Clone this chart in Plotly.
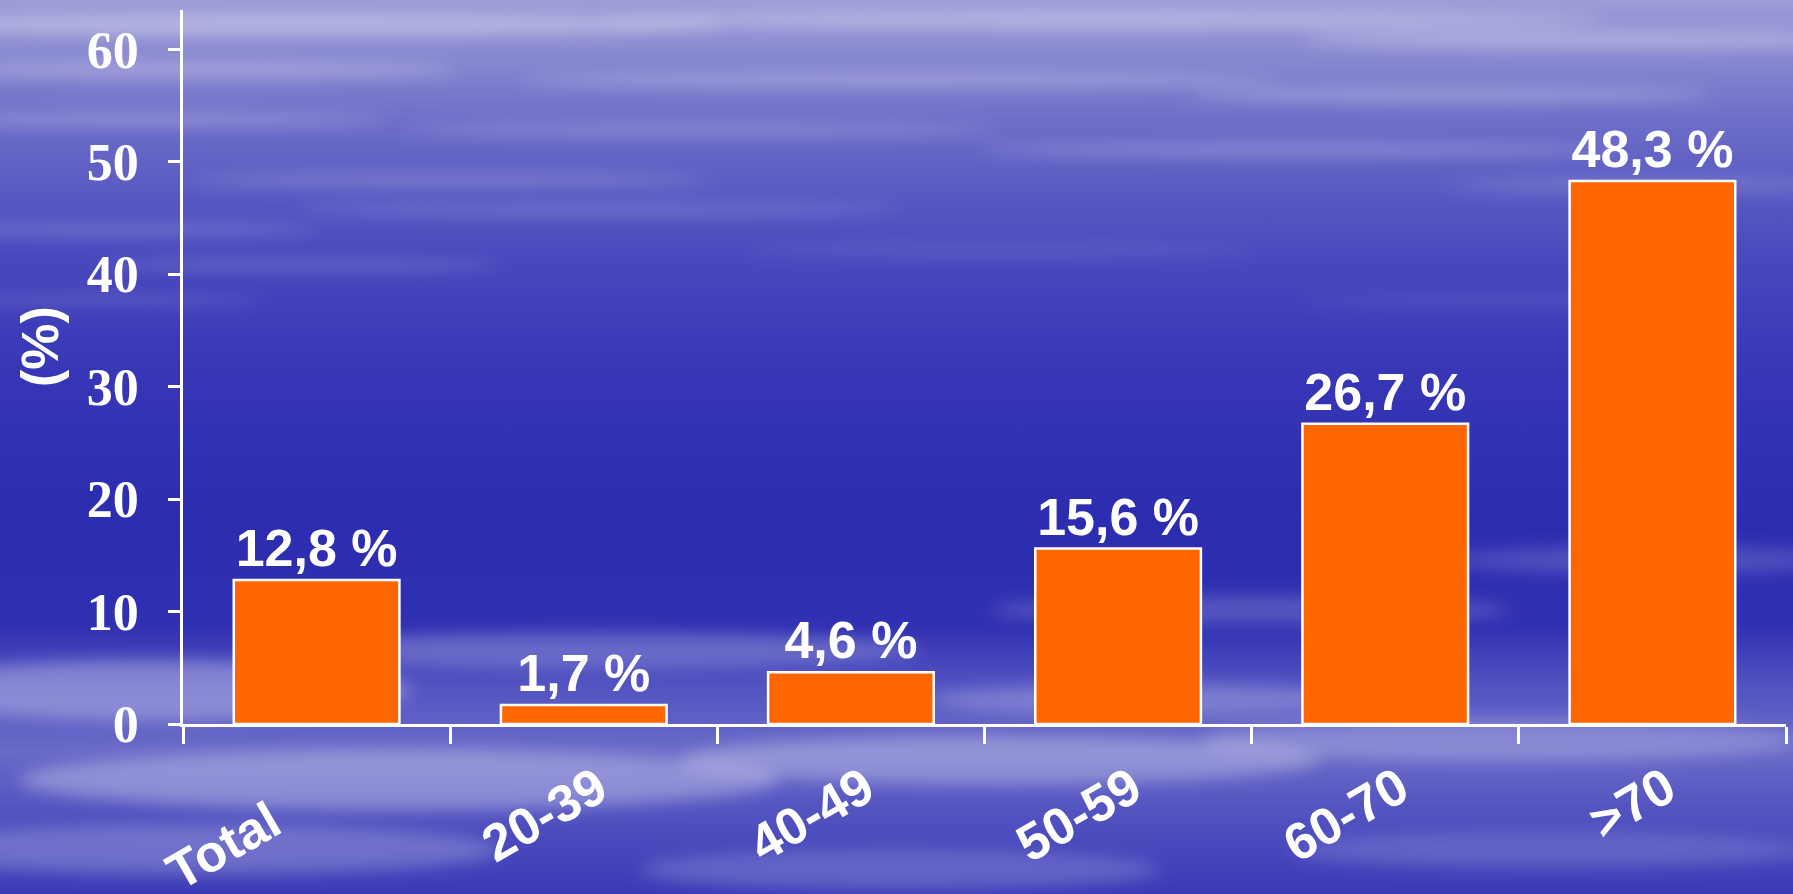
import base64
import plotly.graph_objects as go

# ---- data ----
categories = ["Total", "20-39", "40-49", "50-59", "60-70", ">70"]
values = [12.8, 1.7, 4.6, 15.6, 26.7, 48.3]
y_ticks = [0, 10, 20, 30, 40, 50, 60]
y_title = "(%)"
# tick texts as drawn in the reference ("Total" sits further out along its slant)
tick_labels = ["Total\u00a0\u00a0\u00a0\u00a0\u2009"] + categories[1:]

labels = [f"{v:.1f}".replace(".", ",") + " %" for v in values]

W, H = 1793, 894
ML, MR, MT, MB = 183, 7, 10, 170

# ---- decorative water-like background (SVG) ----
stops = [
    (0.00, "#9C9CD8"), (0.05, "#8C8CD2"), (0.14, "#6C6CC8"), (0.28, "#4A4ABE"),
    (0.42, "#3636B6"), (0.58, "#2C2CB0"), (0.70, "#3030B2"), (0.77, "#5454C2"),
    (0.84, "#6A6AC8"), (0.91, "#5252C0"), (1.00, "#3A3AB6"),
]
streaks = [
    # cx, cy, rx, ry, opacity
    (300, 25, 420, 10, 0.35), (1100, 20, 500, 9, 0.30), (1600, 40, 300, 8, 0.30),
    (200, 70, 260, 7, 0.30), (900, 80, 380, 7, 0.25), (1450, 95, 260, 6, 0.30),
    (150, 120, 240, 6, 0.25), (700, 130, 300, 6, 0.22), (1300, 150, 320, 6, 0.25),
    (450, 180, 260, 5, 0.25), (1650, 185, 200, 5, 0.22), (120, 230, 200, 5, 0.22),
    (600, 210, 300, 5, 0.20), (300, 265, 200, 5, 0.20), (1000, 250, 260, 4, 0.16),
    (100, 300, 160, 4, 0.18), (1500, 300, 200, 4, 0.12),
    (150, 690, 260, 30, 0.30), (600, 650, 320, 18, 0.22), (1250, 610, 260, 14, 0.18),
    (1650, 560, 200, 14, 0.16), (400, 780, 380, 30, 0.30), (1000, 760, 320, 25, 0.28),
    (1500, 740, 300, 22, 0.22), (200, 850, 300, 25, 0.22), (900, 870, 260, 20, 0.18),
    (1550, 850, 260, 18, 0.15), (1150, 700, 220, 16, 0.22),
]
svg = [f'<svg xmlns="http://www.w3.org/2000/svg" width="{W}" height="{H}" viewBox="0 0 {W} {H}">',
       '<defs><linearGradient id="g" x1="0" y1="0" x2="0" y2="1">']
for off, col in stops:
    svg.append(f'<stop offset="{off}" stop-color="{col}"/>')
svg.append('</linearGradient><filter id="b" x="-50%" y="-200%" width="200%" height="500%">'
           '<feGaussianBlur stdDeviation="8"/></filter></defs>')
svg.append(f'<rect width="{W}" height="{H}" fill="url(#g)"/>')
svg.append('<g filter="url(#b)">')
for cx, cy, rx, ry, op in streaks:
    svg.append(f'<ellipse cx="{cx}" cy="{cy}" rx="{rx}" ry="{ry}" fill="#FFFFFF" opacity="{op}"/>')
svg.append('</g></svg>')
svg_uri = "data:image/svg+xml;base64," + base64.b64encode("".join(svg).encode()).decode()

fig = go.Figure()
fig.add_trace(go.Bar(
    x=categories, y=values, width=0.62,
    marker=dict(color="#FF6600", line=dict(color="#FFFFFF", width=2.5)),
    text=labels, textposition="outside", constraintext="none", cliponaxis=False,
    textfont=dict(family="Liberation Sans", size=52, color="#FFFFFF", weight="bold"),
    hoverinfo="skip",
))

fig.update_layout(
    width=W, height=H,
    margin=dict(l=ML, r=MR, t=MT, b=MB, pad=0, autoexpand=False),
    paper_bgcolor="#2C2CB0", plot_bgcolor="rgba(0,0,0,0)",
    showlegend=False,
    images=[dict(source=svg_uri, xref="paper", yref="paper",
                 x=-ML / (W - ML - MR), y=1 + MT / (H - MT - MB),
                 sizex=W / (W - ML - MR), sizey=H / (H - MT - MB),
                 xanchor="left", yanchor="top", sizing="stretch", layer="below")],
    xaxis=dict(
        automargin=False,
        tickmode="array", tickvals=categories, ticktext=tick_labels,
        tickson="boundaries", ticks="outside", ticklen=17, tickwidth=2.5, tickcolor="#FFFFFF",
        showline=True, linecolor="#FFFFFF", linewidth=3, showgrid=False, zeroline=False,
        tickangle=-30, ticklabelstandoff=11, ticklabelshift=14,
        tickfont=dict(family="Liberation Sans", size=52, color="#FFFFFF", weight="bold"),
    ),
    yaxis=dict(
        automargin=False,
        range=[0, 63.5], tickvals=y_ticks, ticks="outside", ticklen=12, tickwidth=2.5,
        tickcolor="#FFFFFF", showline=True, linecolor="#FFFFFF", linewidth=2.5,
        showgrid=False, zeroline=False, ticklabelstandoff=19,
        tickfont=dict(family="Liberation Serif", size=52, color="#FFFFFF", weight="bold"),
    ),
    annotations=[dict(
        text=y_title, textangle=-90, showarrow=False,
        xref="paper", yref="paper",
        x=(40 - ML) / (W - ML - MR), y=(H - MB - 347) / (H - MT - MB),
        xanchor="center", yanchor="middle",
        font=dict(family="Liberation Sans", size=52, color="#FFFFFF", weight="bold"),
    )],
)

fig.write_html("out.html", config={"displayModeBar": False},
               post_script="document.body.style.margin='0';document.body.style.overflow='hidden';")
